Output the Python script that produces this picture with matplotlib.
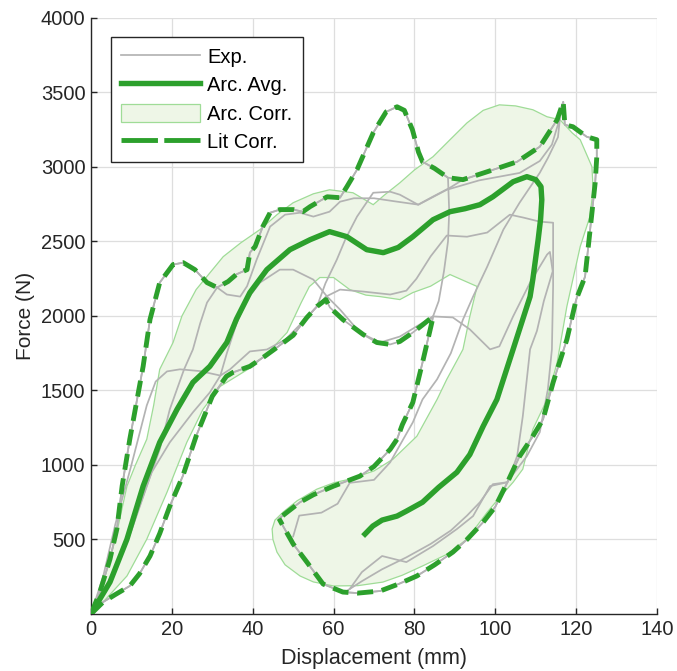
import matplotlib
matplotlib.use("Agg")
import matplotlib.pyplot as plt
from matplotlib.patches import Patch
from matplotlib.lines import Line2D

plt.rcParams['font.family'] = ['Liberation Sans', 'DejaVu Sans']

# --- literature corridor (upper / lower bound) ---
lit_up_x = [0, 2.2, 4.7, 6.4, 7.7, 9.6, 11.4, 12.9, 14.6, 17, 20.3, 22.8, 25.7, 28.7, 31.2, 33.9, 36, 38.6,
            39.3, 40.6, 42.5, 44.3, 46.7, 50, 52.4, 54.2, 58.4, 61.6, 63.3, 65.8, 69.8, 73, 75.7, 77.5, 79.5,
            81, 82, 85, 88.3, 92, 98, 105.4, 111, 115.3, 116.8, 117.2, 119.2, 122.6, 125.1, 125.1, 124.7,
            123.8, 123, 122.2, 120, 117.7, 114.3, 111.8, 109, 106, 103, 100, 97, 93, 89.5, 85, 80.6, 76,
            71.5, 66, 62.3, 57.4, 53.4, 50, 47.5, 46.5]
lit_up_y = [0, 147, 368, 570, 858, 1173, 1440, 1662, 1977, 2224, 2345, 2358, 2311, 2224, 2191, 2231, 2280, 2311,
            2425, 2466, 2600, 2693, 2714, 2714, 2700, 2734, 2800, 2794, 2868, 2982, 3229, 3370, 3404, 3380, 3250,
            3100, 3035, 2990, 2928, 2915, 2968, 3035, 3136, 3317, 3437, 3283, 3270, 3203, 3183, 3069, 2894,
            2667, 2466, 2264, 2110, 1842, 1554, 1306, 1180, 1058, 884, 720, 616, 500, 415, 330, 255, 200,
            154, 140, 147, 201, 348, 470, 590, 640]

lit_lo_x = [0, 3, 6, 9.6, 12, 14.6, 17, 19.5, 22.7, 26, 30, 33.5, 35.1, 39.3, 43, 46, 50, 53.4, 55.9, 58.1,
            59.1, 62.3, 67.3, 70.7, 74, 76.4, 79.6, 82, 84.6, 84.3, 82, 79.6, 77, 75.7, 74, 70, 66.5, 60,
            55, 51.7, 48.5, 46.5]
lit_lo_y = [0, 80, 130, 188, 270, 389, 540, 724, 925, 1193, 1461, 1595, 1621, 1662, 1730, 1789, 1870, 1990, 2064, 2110,
            2057, 1976, 1876, 1822, 1809, 1829, 1889, 1940, 1997, 1956, 1688, 1420, 1270, 1173, 1105, 990, 925, 858,
            800, 750, 683, 640]

# --- archive average ---
avg_x = [0, 4.7, 8.9, 12.9, 17, 21.3, 25.2, 29.4, 33.6, 36, 39.3, 43.5, 49.2, 54.2, 59, 63.3, 68.2, 72.3,
         76, 79.6, 84.6, 88.8, 92.5, 96.2, 99.4, 104.4, 107.8, 110, 111.3, 111.5, 111.2, 110.6, 109.3, 108.6,
         104.4, 100.4, 97, 93.7, 90.5, 86, 82, 78, 75.7, 72, 69.7, 67.3]
avg_y = [0, 214, 502, 858, 1152, 1374, 1554, 1662, 1822, 1980, 2157, 2311, 2445, 2512, 2566, 2532, 2445, 2425,
         2460, 2532, 2646, 2700, 2720, 2747, 2800, 2901, 2935, 2915, 2868, 2780, 2650, 2512, 2250, 2130,
         1776, 1440, 1260, 1070, 951, 850, 750, 690, 657, 630, 590, 523]

# --- archive corridor outline ---
band_x = [0, 2, 4, 6, 8.9, 11, 13.8, 15.5, 17, 20.3, 22.5, 26, 32.7, 37, 41.8, 46, 50, 55, 59, 64.8, 69.8,
          72.5, 76.4, 80, 84.6, 88.8, 93, 97, 101, 105, 109.3, 112.8, 116, 119, 121, 123.9, 124.2, 123.4,
          121, 117.7, 115.3, 112.8, 109.3, 108.2, 106.8, 104.4, 101, 98, 93, 88, 82, 77, 72.2, 66, 60, 55,
          51.7, 48, 46, 45, 44.8, 45.5, 47.5, 51, 55.9, 60, 64, 70, 74.7, 80.6, 85.6, 88, 90.5, 92, 93.7,
          95.5, 88.8, 84, 79.6, 76.4, 71.5, 68, 64, 60, 56.6, 54, 52, 48.5, 44, 40, 32, 27.7, 23.7, 18.8,
          13.8, 8.9, 3, 0]
band_y = [0, 120, 300, 500, 858, 1000, 1173, 1400, 1642, 1822, 2000, 2177, 2398, 2490, 2580, 2680, 2760, 2820,
          2847, 2827, 2747, 2810, 2894, 2980, 3069, 3183, 3296, 3380, 3417, 3410, 3384, 3337, 3317, 3229, 3183,
          3002, 2848, 2667, 2466, 2064, 1689, 1440, 1240, 1126, 972, 884, 780, 683, 502, 400, 322, 260, 214,
          190, 188, 215, 255, 330, 415, 500, 570, 630, 683, 760, 838, 880, 905, 960, 1039, 1193, 1440, 1575,
          1700, 1776, 1997, 2198, 2278, 2200, 2157, 2110, 2130, 2140, 2177, 2258, 2258, 2197, 2090, 1889, 1760,
          1662, 1528, 1374, 1152, 817, 502, 255, 80, 0]

# --- experiments ---
exp_a_x = [0, 2.2, 4.7, 6.4, 7.7, 9.6, 11.4, 12.9, 14.6, 17, 20.3, 22.8, 25.7, 28.7, 31.2, 33.9, 36, 38.6, 39.3,
           40.6, 42.5, 44.3, 46.7, 50, 52.4, 54.2, 58.4, 61.6, 63.3, 65.8, 69.8, 73, 75.7, 77.5, 79.5, 81, 82,
           85, 88.3, 88.6, 88.3, 87.3, 86, 84.6, 84.3, 82, 79.6, 77, 75.7, 74, 70, 66.5, 60, 55, 51.7, 48.5, 46.5]
exp_a_y = [0, 147, 368, 570, 858, 1173, 1440, 1662, 1977, 2224, 2345, 2358, 2311, 2224, 2191, 2231, 2280, 2311, 2425,
           2466, 2600, 2693, 2714, 2714, 2700, 2734, 2800, 2794, 2868, 2982, 3229, 3370, 3404, 3380, 3250, 3100, 3035,
           2990, 2928, 2700, 2500, 2300, 2100, 1997, 1956, 1688, 1420, 1270, 1173, 1105, 990, 925, 858, 800, 750, 683, 640]

exp_b_x = [0, 3, 6, 9.6, 12, 14.6, 17, 19.5, 22.7, 26, 30, 33.5, 35.1, 39.3, 43, 46, 50, 53.4, 55.9, 58, 60.8,
           63, 65.8, 69.8, 74, 76.4, 80.9, 84.5, 88.8, 92, 98, 105.4, 111, 115.3, 116.8, 117.2, 119.2, 122.6,
           125.1, 125.1, 124.7, 123.8, 123, 122.2, 120, 117.7, 114.3, 111.8, 109, 106, 103, 100, 97, 93, 89.5,
           85, 80.6, 76, 71.5, 66, 62.3, 57.4, 53.4, 50, 47.5, 46.5]
exp_b_y = [0, 80, 130, 188, 270, 389, 540, 724, 925, 1193, 1461, 1595, 1621, 1662, 1730, 1789, 1870, 1990, 2064, 2220,
           2378, 2520, 2667, 2827, 2834, 2814, 2747, 2800, 2861, 2915, 2968, 3035, 3136, 3317, 3437, 3283, 3270, 3203,
           3183, 3069, 2894, 2667, 2466, 2264, 2110, 1842, 1554, 1306, 1180, 1058, 884, 720, 616, 500, 415,
           330, 255, 200, 154, 140, 147, 201, 348, 470, 590, 640]

exp_c_x = [0, 3, 6, 10, 13.8, 16, 18.8, 22, 27, 32, 34.4, 39.3, 43.5, 48, 52, 55.9, 58.1, 61.6, 67.3, 74, 78,
           80.5, 84, 88, 93, 98, 103.6, 107, 111, 114.3, 114.3, 114, 113, 111, 107.8, 102.9, 99.4, 96.2, 93,
           89, 84, 78, 72, 67, 63]
exp_c_y = [0, 250, 600, 1000, 1400, 1560, 1628, 1642, 1630, 1600, 1642, 1762, 1775, 1840, 1950, 2064, 2130, 2177,
           2164, 2144, 2170, 2250, 2400, 2540, 2532, 2560, 2680, 2660, 2633, 2626, 2200, 1776, 1508, 1220, 1059,
           884, 871, 750, 660, 560, 470, 380, 300, 220, 150]

exp_d_x = [0, 5, 10, 15, 19.5, 25.2, 29.4, 32, 33.6, 36, 38.6, 41.8, 46.7, 50, 55, 58.4, 61.6, 66.5, 71.5,
           76.4, 84.6, 89.5, 93.7, 98.7, 101, 104.4, 108.6, 112.8, 113.5, 114.2, 112, 110.3, 108.6, 106.8,
           105.4, 103, 98.7, 94.5, 90.5, 84.6, 78, 72, 67, 64]
exp_d_y = [0, 220, 560, 950, 1152, 1353, 1487, 1600, 1750, 1950, 2110, 2224, 2311, 2311, 2244, 2130, 2043, 1889,
           1822, 1862, 1997, 1990, 1910, 1776, 1796, 1997, 2224, 2412, 2430, 2300, 2100, 1900, 1776, 1327,
           1059, 884, 858, 657, 570, 456, 348, 389, 281, 168]

exp_e_x = [0, 4, 8, 13, 17, 19.5, 23, 25.2, 27, 28.7, 31.2, 33.6, 36.9, 38.6, 41, 44.3, 48, 51.7, 55, 59,
           61.6, 65, 70, 75, 81, 88, 96, 106, 111, 114, 116, 115.5, 113, 111, 106, 102, 98, 94.5, 92, 89,
           85.6, 82, 79.6, 74, 70, 64, 61, 57, 51.5, 50]
exp_e_y = [0, 200, 420, 800, 1105, 1374, 1640, 1775, 1950, 2090, 2191, 2144, 2130, 2200, 2380, 2600, 2680, 2693,
           2667, 2700, 2767, 2790, 2790, 2770, 2747, 2847, 2910, 2960, 3040, 3150, 3330, 3200, 3060, 2961, 2760,
           2580, 2331, 2130, 1976, 1750, 1575, 1440, 1286, 1018, 900, 880, 740, 680, 660, 520]

exp_x = [exp_a_x, exp_b_x, exp_c_x, exp_d_x, exp_e_x]
exp_y = [exp_a_y, exp_b_y, exp_c_y, exp_d_y, exp_e_y]

green = '#2ca02c'
grey = '#b3b3b3'
band_face = '#eef6e7'
band_edge = '#9fdc97'
dash = (3.3, 1.8)

fig = plt.figure(figsize=(6.77, 6.71), dpi=100)
ax = fig.add_axes([0.1344, 0.085, 0.8361, 0.8882])

ax.fill(band_x, band_y, facecolor=band_face, edgecolor=band_edge, linewidth=0.9, zorder=1)

for xs, ys in zip(exp_x, exp_y):
    ax.plot(xs, ys, color=grey, lw=1.25, zorder=2, solid_joinstyle='round')

ax.plot(avg_x, avg_y, color=green, lw=3.9, zorder=4, solid_joinstyle='round', solid_capstyle='butt')

for xs, ys in [(lit_up_x, lit_up_y), (lit_lo_x, lit_lo_y)]:
    ax.plot(xs, ys, color=grey, lw=1.25, zorder=3)
    ax.plot(xs, ys, color=green, lw=3.5, dashes=dash, zorder=5, dash_capstyle='butt')

ax.set_xlim(0, 140)
ax.set_ylim(0, 4000)
ax.set_xticks(range(0, 141, 20))
ax.set_yticks(range(500, 4001, 500))
ax.grid(True, color='#dedede', lw=0.9)
ax.set_axisbelow(True)
for s in ['top', 'right']:
    ax.spines[s].set_visible(False)
for s in ['left', 'bottom']:
    ax.spines[s].set_color('#262626')
    ax.spines[s].set_linewidth(1.0)
ax.tick_params(direction='in', length=4.5, width=1.0, colors='#262626', labelsize=14.5, pad=4)
ax.set_xlabel('Displacement (mm)', fontsize=15.5, color='#262626', labelpad=7)
ax.set_ylabel('Force (N)', fontsize=15, color='#262626', labelpad=4)

handles = [
    Line2D([], [], color=grey, lw=1.25),
    Line2D([], [], color=green, lw=3.9),
    Patch(facecolor=band_face, edgecolor=band_edge, linewidth=0.9),
    Line2D([], [], color=green, lw=3.5, dashes=(7.5, 1.3)),
]
labels = ['Exp.', 'Arc. Avg.', 'Arc. Corr.', 'Lit Corr.']
leg = ax.legend(handles, labels, loc='upper left', bbox_to_anchor=(0.035, 0.968), borderaxespad=0,
                fontsize=14.5, handlelength=3.95, handleheight=1.0, handletextpad=0.35, labelspacing=0.42,
                borderpad=0.5, fancybox=False, framealpha=1, edgecolor='#262626')
leg.get_frame().set_linewidth(1.0)

fig.savefig('out.png', dpi=100)
